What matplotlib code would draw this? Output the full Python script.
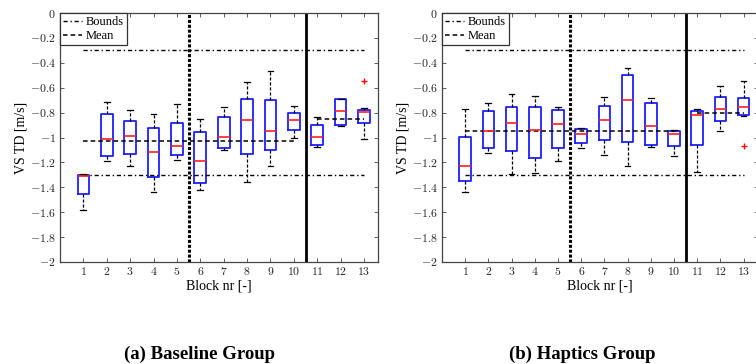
import matplotlib
matplotlib.use("Agg")
import matplotlib.pyplot as plt
from matplotlib.lines import Line2D

plt.rcParams['font.family'] = ['Liberation Serif', 'DejaVu Serif']
plt.rcParams['mathtext.fontset'] = 'cm'
plt.rcParams['axes.formatter.use_mathtext'] = True

blocks = list(range(1, 14))

# Baseline group: whislo, q1, med, q3, whishi, outliers
base_whislo = [-1.585, -1.189, -1.232, -1.44, -1.178, -1.419, -1.098, -1.36, -1.229, -1.004, -1.079, -0.905, -1.009]
base_q1     = [-1.45, -1.151, -1.133, -1.32, -1.138, -1.365, -1.087, -1.13, -1.098, -0.937, -1.058, -0.90, -0.886]
base_med    = [-1.31, -1.012, -0.99, -1.114, -1.068, -1.186, -0.996, -0.862, -0.95, -0.859, -0.996, -0.79, -0.798]
base_q3     = [-1.30, -0.814, -0.87, -0.921, -0.884, -0.958, -0.835, -0.693, -0.701, -0.80, -0.897, -0.693, -0.782]
base_whishi = [-1.295, -0.715, -0.782, -0.814, -0.731, -0.849, -0.755, -0.557, -0.469, -0.75, -0.833, -0.693, -0.763]
base_fliers = [[], [], [], [], [], [], [], [], [], [], [], [], [-0.549]]
base_mean_pre = -1.03
base_mean_post = -0.85

# Haptics group
hap_whislo = [-1.435, -1.122, -1.296, -1.285, -1.189, -1.087, -1.138, -1.229, -1.074, -1.151, -1.28, -0.95, -0.825]
hap_q1     = [-1.347, -1.084, -1.108, -1.165, -1.087, -1.044, -1.023, -1.036, -1.063, -1.066, -1.063, -0.87, -0.819]
hap_med    = [-1.232, -0.948, -0.886, -0.94, -0.892, -0.969, -0.862, -0.696, -0.908, -0.969, -0.817, -0.771, -0.752]
hap_q3     = [-0.993, -0.784, -0.752, -0.752, -0.776, -0.932, -0.75, -0.50, -0.726, -0.95, -0.79, -0.675, -0.68]
hap_whishi = [-0.768, -0.72, -0.651, -0.669, -0.758, -0.924, -0.677, -0.439, -0.685, -0.937, -0.774, -0.589, -0.543]
hap_fliers = [[], [], [], [], [], [], [], [], [], [], [], [], [-1.066]]
hap_mean_pre = -0.95
hap_mean_post = -0.80

bound_upper = -0.3
bound_lower = -1.3

fig = plt.figure(figsize=(7.56, 3.64), dpi=100)
W, H = 756, 364
ax1 = fig.add_axes([60 / W, 1 - 262 / H, (378 - 60) / W, (262 - 13) / H])
ax2 = fig.add_axes([442 / W, 1 - 262 / H, (757.5 - 442) / W, (262 - 13) / H])


def draw(ax, wl, q1, med, q3, wh, fl, mpre, mpost, caption, cx):
    stats = []
    for i in range(len(blocks)):
        stats.append(dict(whislo=wl[i], q1=q1[i], med=med[i], q3=q3[i], whishi=wh[i], fliers=fl[i]))
    ax.bxp(stats, positions=blocks, widths=0.5, showfliers=True,
           boxprops=dict(color='#1f1fff', linewidth=1.3),
           medianprops=dict(color='#ff2020', linewidth=1.2),
           whiskerprops=dict(color='black', linestyle='--', linewidth=0.9, dashes=(2.5, 1.5)),
           capprops=dict(color='black', linewidth=0.9),
           flierprops=dict(marker='+', markeredgecolor='red', markersize=4, markeredgewidth=1.0))
    ax.plot([1, 13], [bound_upper, bound_upper], color='black', linestyle='-.', linewidth=1.0, dashes=(3, 2, 1, 2))
    ax.plot([1, 13], [bound_lower, bound_lower], color='black', linestyle='-.', linewidth=1.0, dashes=(3, 2, 1, 2))
    ax.plot([1, 10], [mpre, mpre], color='black', linestyle='--', linewidth=1.1, dashes=(3, 2))
    ax.plot([11, 13], [mpost, mpost], color='black', linestyle='--', linewidth=1.1, dashes=(3, 2))
    ax.axvline(5.5, color='black', linestyle=':', linewidth=2.2, dashes=(1, 0.6))
    ax.axvline(10.5, color='black', linestyle='-', linewidth=2.0)
    ax.set_xlim(0, 13.6)
    ax.set_ylim(-2, 0)
    ax.set_xticks(blocks)
    ax.set_xticklabels([f'${b}$' for b in blocks])
    ax.set_yticks([0, -0.2, -0.4, -0.6, -0.8, -1, -1.2, -1.4, -1.6, -1.8, -2])
    ax.set_yticklabels(['$0$', '$-0.2$', '$-0.4$', '$-0.6$', '$-0.8$', '$-1$', '$-1.2$',
                        '$-1.4$', '$-1.6$', '$-1.8$', '$-2$'])
    ax.tick_params(direction='in', length=3, width=0.6, top=True, right=True, labelsize=8.5,
                   color='#444444', labelcolor='#222222', pad=3)
    for s in ax.spines.values():
        s.set_color('#444444')
        s.set_linewidth(0.9)
    ax.set_xlabel('Block nr [-]', fontsize=10, labelpad=1)
    ax.set_ylabel('VS TD [m/s]', fontsize=10, labelpad=2)
    handles = [Line2D([], [], color='black', linestyle='-.', linewidth=1.0, dashes=(3, 2, 1, 2)),
               Line2D([], [], color='black', linestyle='--', linewidth=1.1, dashes=(3, 2))]
    leg = ax.legend(handles, ['Bounds', 'Mean'], loc='upper left', fontsize=9, fancybox=False,
                    framealpha=1, edgecolor='#333333', borderpad=0.25, labelspacing=0.15,
                    handlelength=1.5, handletextpad=0.3, borderaxespad=0.0)
    leg.get_frame().set_linewidth(0.9)
    fig.text(cx, 1 - 354 / H, caption, ha='center', va='center', fontsize=13.5, fontweight='bold')


draw(ax1, base_whislo, base_q1, base_med, base_q3, base_whishi, base_fliers,
     base_mean_pre, base_mean_post, '(a) Baseline Group', 199 / W)
draw(ax2, hap_whislo, hap_q1, hap_med, hap_q3, hap_whishi, hap_fliers,
     hap_mean_pre, hap_mean_post, '(b) Haptics Group', 582 / W)

fig.savefig('out.png', dpi=100)
